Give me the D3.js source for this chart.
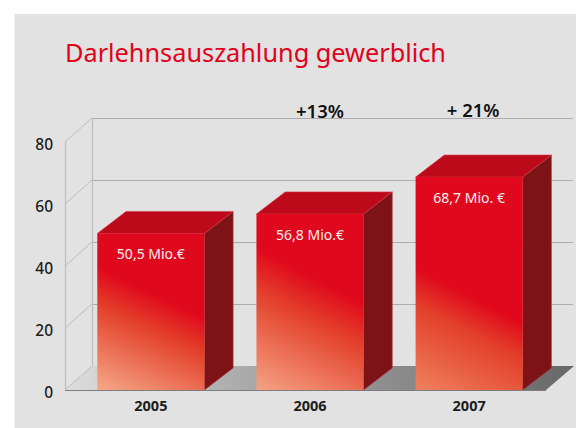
<!DOCTYPE html>
<html><head><meta charset="utf-8">
<script src="https://cdnjs.cloudflare.com/ajax/libs/d3/7.8.5/d3.min.js"></script>
<style>html,body{margin:0;padding:0;background:#fff}svg{display:block}text{font-family:"Noto Sans",sans-serif}</style>
</head><body><div id="c"></div>
<script>
const title = "Darlehnsauszahlung gewerblich";
const years = ["2005","2006","2007"];
const values = [50.5,56.8,68.7];
const valueLabels = ["50,5 Mio.€","56,8 Mio.€","68,7 Mio. €"];
const yTicks = [0,20,40,60,80];
const changes = [{year:"2006",text:"+13%"},{year:"2007",text:"+ 21%"}];

// styling per bar: where the pure red ends above the base (left/right edge), colour at the lower-left corner
const fadeLeft = [123,143,123], fadeRight = [73,87,67];
const fadeEnd = ["#f5a988","#f5a385","#ee8260"];

const W=576,H=428;
const svg=d3.select("#c").append("svg").attr("width",W).attr("height",H);
svg.append("rect").attr("x",14.5).attr("y",14).attr("width",W-14.5).attr("height",H-14).attr("fill","#e2e2e2");

const y=d3.scaleLinear().domain([0,80]).range([390,142]);
const x=d3.scaleBand().domain(years).range([97.3,522.7]).paddingInner(0.327);
const backDx=27, backDy=-24, barDx=28.7, barDy=-22;
const axisLeftX=65, floorRight=546;
const defs=svg.append("defs");

// floor
const fg=defs.append("linearGradient").attr("id","floor").attr("gradientUnits","userSpaceOnUse")
 .attr("x1",axisLeftX).attr("x2",floorRight+backDx).attr("y1",0).attr("y2",0);
fg.append("stop").attr("offset",0).attr("stop-color","#dedede");
fg.append("stop").attr("offset",.32).attr("stop-color","#aeaeae");
fg.append("stop").attr("offset",1).attr("stop-color","#686868");
svg.append("polygon").attr("fill","url(#floor)")
 .attr("points",[[axisLeftX,y(0)],[floorRight,y(0)],[floorRight+backDx+1,y(0)+backDy],[axisLeftX+backDx,y(0)+backDy]].join(" "));

// back wall grid
const gridCol="#adadad";
svg.append("g").selectAll("line").data(yTicks.filter(d=>d>0)).join("line")
 .attr("x1",axisLeftX+backDx).attr("x2",floorRight+backDx).attr("y1",d=>y(d)+backDy+.5).attr("y2",d=>y(d)+backDy+.5)
 .attr("stroke",gridCol).attr("stroke-width",1);
svg.append("g").selectAll("line").data(yTicks).join("line")
 .attr("x1",axisLeftX).attr("x2",axisLeftX+backDx).attr("y1",d=>y(d)).attr("y2",d=>y(d)+backDy)
 .attr("stroke","#bdbdbd").attr("stroke-width",1);
[0,backDx].forEach(dx=>svg.append("line").attr("x1",axisLeftX+dx+.5).attr("x2",axisLeftX+dx+.5)
 .attr("y1",y(80)+(dx?backDy:0)).attr("y2",y(0)+(dx?backDy:0)).attr("stroke","#bdbdbd").attr("stroke-width",1.2));

// axes
const ax=svg.append("g").attr("transform",`translate(${axisLeftX},0)`).call(d3.axisLeft(y).tickValues(yTicks).tickSize(0).tickPadding(12));
ax.select(".domain").remove();
ax.selectAll("text").attr("font-size",15.5).attr("font-weight",500).attr("fill","#1c1c1c").attr("font-family",'"Noto Sans",sans-serif').attr("dy","0.5em");
const bx=svg.append("g").attr("transform",`translate(0,${y(0)})`).call(d3.axisBottom(x).tickSize(0).tickPadding(11));
bx.select(".domain").remove();
bx.selectAll("text").attr("font-size",14.5).attr("font-weight",700).attr("fill","#1c1c1c").attr("font-family",'"Noto Sans",sans-serif');
svg.append("line").attr("x1",axisLeftX).attr("x2",floorRight).attr("y1",y(0)+.5).attr("y2",y(0)+.5).attr("stroke","#7d7d7d").attr("stroke-width",1.2);

// bars
const bw=x.bandwidth();
years.forEach((yr,i)=>{
  const l=x(yr), r=l+bw, t=y(values[i]), b=y(0);
  const yL=b-fadeLeft[i], yR=b-fadeRight[i], s=(yR-yL)/bw, n=Math.hypot(s,1);
  const cx=(l+r)/2, cy=(yL+yR)/2, ux=-s/n, uy=1/n;
  const span=(l-cx)*ux+(b-cy)*uy;
  const g=defs.append("linearGradient").attr("id","bar"+i).attr("gradientUnits","userSpaceOnUse")
    .attr("x1",cx).attr("y1",cy).attr("x2",cx+ux*span).attr("y2",cy+uy*span);
  g.append("stop").attr("offset",0).attr("stop-color","#e0081c");
  g.append("stop").attr("offset",.3).attr("stop-color","#e33f2a");
  g.append("stop").attr("offset",1).attr("stop-color",fadeEnd[i]);
  const bar=svg.append("g");
  bar.append("polygon").attr("fill","#7e1317").attr("stroke","#a8383f").attr("stroke-width",.6)
    .attr("points",[[r,t],[r+barDx,t+barDy],[r+barDx,b+barDy],[r,b]].join(" "));
  bar.append("polygon").attr("fill","#bd0a1b").attr("stroke","#d23a48").attr("stroke-width",.6)
    .attr("points",[[l,t],[r,t],[r+barDx,t+barDy],[l+barDx,t+barDy]].join(" "));
  bar.append("rect").attr("x",l).attr("y",t).attr("width",bw).attr("height",b-t).attr("fill",`url(#bar${i})`);
  bar.append("text").attr("x",cx).attr("y",t+26).attr("text-anchor","middle").attr("font-size",14).attr("fill","#fdeef0").text(valueLabels[i]);
});

// change labels
svg.append("g").selectAll("text").data(changes).join("text")
 .attr("x",d=>x(d.year)+bw/2+(d.year==="2006"?10:4)).attr("y",d=>d.year==="2006"?118:116.5)
 .attr("text-anchor","middle").attr("font-size",18.5).attr("font-weight",600).attr("fill","#111").text(d=>d.text);

// title
svg.append("text").attr("x",65).attr("y",62).attr("font-size",25).attr("fill","#e2001a")
 .attr("textLength",381).attr("lengthAdjust","spacingAndGlyphs").text(title);
</script></body></html>
